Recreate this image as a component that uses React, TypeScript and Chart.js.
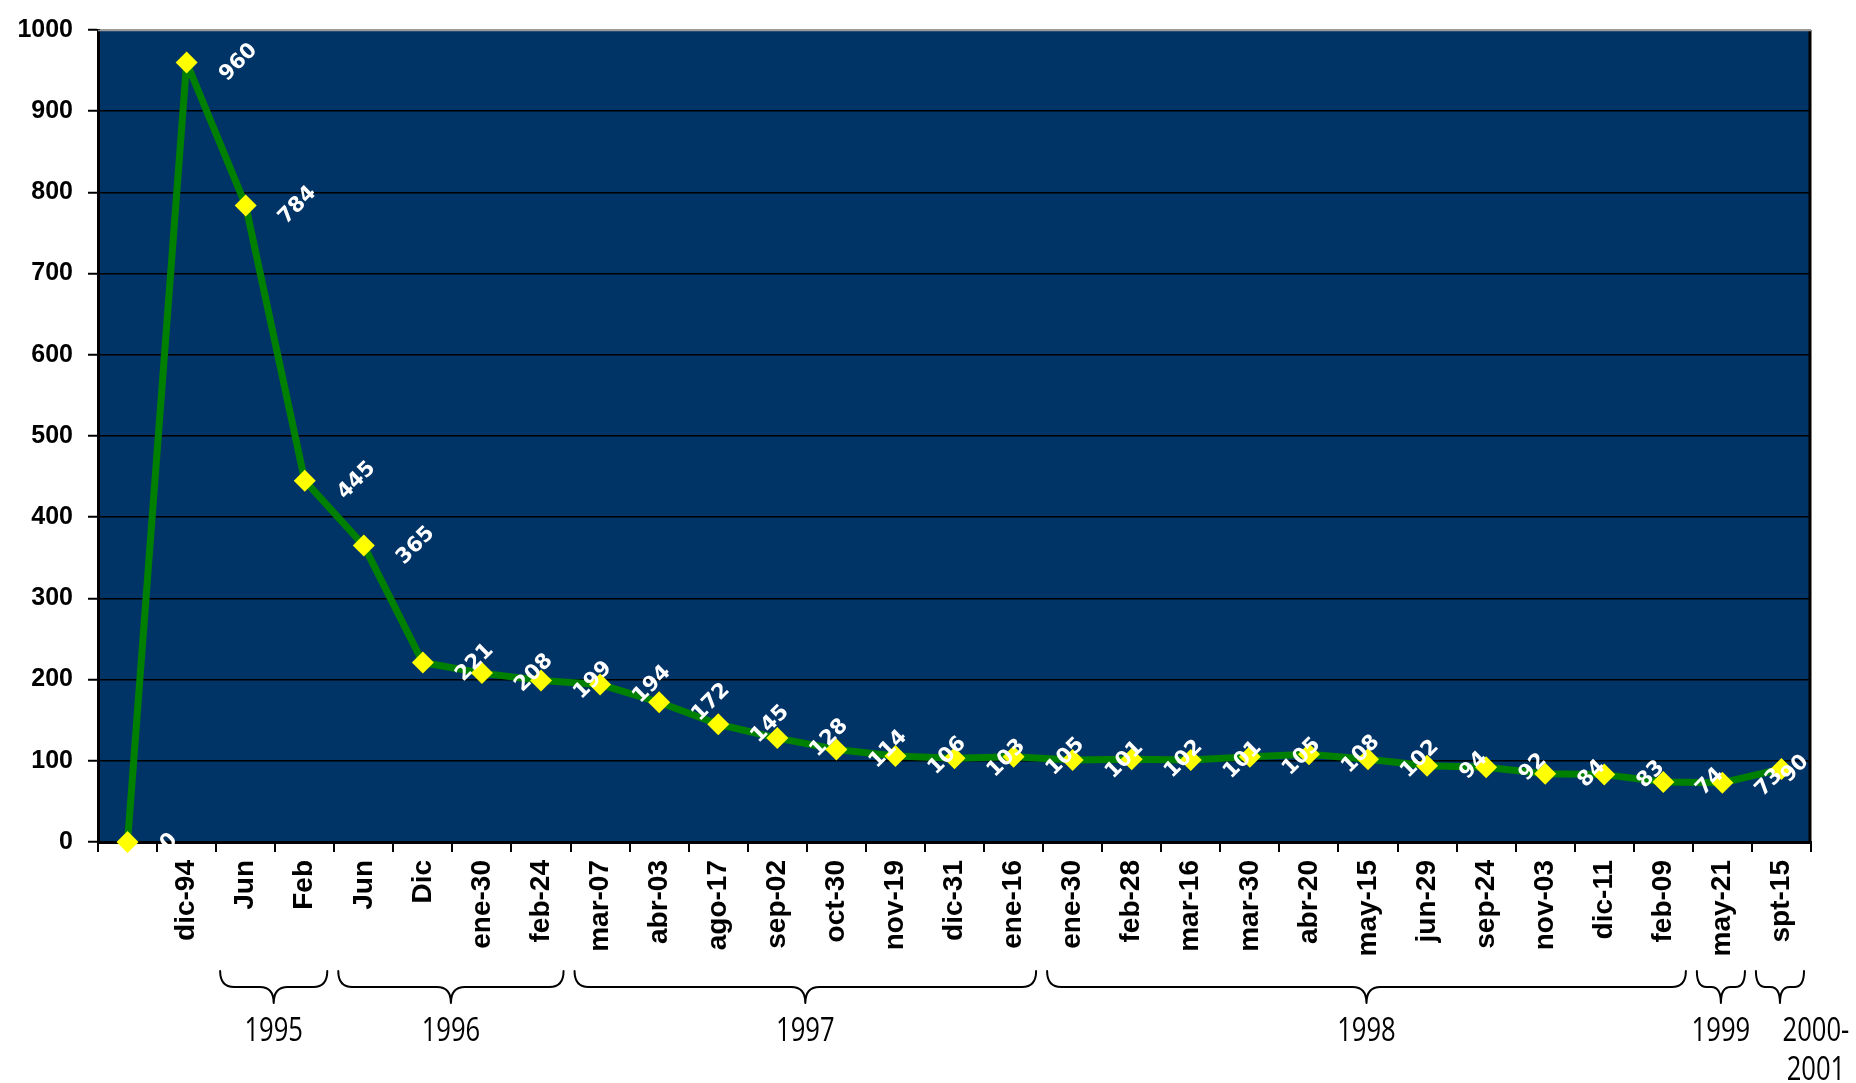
import React, { useEffect, useRef } from 'react';
import { Chart, registerables } from 'chart.js';

Chart.register(...registerables);

// ---- data ----
const categories: string[] = [
  '', 'dic-94', 'Jun', 'Feb', 'Jun', 'Dic', 'ene-30', 'feb-24',
  'mar-07', 'abr-03', 'ago-17', 'sep-02', 'oct-30', 'nov-19', 'dic-31', 'ene-16',
  'ene-30', 'feb-28', 'mar-16', 'mar-30', 'abr-20', 'may-15', 'jun-29', 'sep-24',
  'nov-03', 'dic-11', 'feb-09', 'may-21', 'spt-15',
];
const values: number[] = [
  0, 960, 784, 445, 365, 221, 208, 199, 194, 172, 145, 128, 114, 106, 103,
  105, 101, 102, 101, 105, 108, 102, 94, 92, 84, 83, 74, 73, 90,
];
const yTicks: number[] = [0, 100, 200, 300, 400, 500, 600, 700, 800, 900, 1000];

// year groups (category index ranges)
const yearNames: string[][] = [['1995'], ['1996'], ['1997'], ['1998'], ['1999'], ['2000-', '2001']];
const yearFirst: number[] = [2, 4, 8, 16, 27, 28];
const yearLast: number[] = [3, 7, 15, 26, 27, 28];

// ---- style ----
const PLOT_BG = '#003366';
const LINE_GREEN = '#008000';
const MARKER_YELLOW = '#ffff00';
const yearLabelShift: number[] = [0, 0, 0, 0, 0, 36];

const backgroundPlugin = {
  id: 'plotBackground',
  beforeDraw(chart: any) {
    const { ctx, chartArea: a } = chart;
    ctx.save();
    ctx.fillStyle = '#ffffff';
    ctx.fillRect(0, 0, chart.width, chart.height);
    ctx.fillStyle = PLOT_BG;
    ctx.fillRect(a.left, a.top, a.right - a.left, a.bottom - a.top);
    ctx.restore();
  },
  beforeDatasetsDraw(chart: any) {
    const { ctx, chartArea: a } = chart;
    ctx.save();
    ctx.strokeStyle = '#000';
    ctx.lineWidth = 3;
    ctx.beginPath();
    ctx.moveTo(a.right - 1, a.top);
    ctx.lineTo(a.right - 1, a.bottom);
    ctx.stroke();
    ctx.strokeStyle = '#9a9a9a';
    ctx.lineWidth = 1.5;
    ctx.beginPath();
    ctx.moveTo(a.left, a.top + 0.5);
    ctx.lineTo(a.right, a.top + 0.5);
    ctx.stroke();
    ctx.restore();
  },
};

const dataLabelPlugin = {
  id: 'rotatedDataLabels',
  afterDatasetsDraw(chart: any) {
    const meta = chart.getDatasetMeta(0);
    const { ctx, chartArea: a } = chart;
    const size = 21;
    ctx.save();
    ctx.font = `bold ${size}px "DejaVu Sans", Verdana, sans-serif`;
    ctx.fillStyle = '#ffffff';
    ctx.textAlign = 'center';
    ctx.textBaseline = 'middle';
    const c = Math.SQRT1_2;
    const h = size * 0.73;
    meta.data.forEach((pt: any, i: number) => {
      const text = String(values[i]);
      const w = ctx.measureText(text).width;
      const box = (w + h) * c;
      let left = pt.x + 31;
      if (left + box > a.right) left = a.right - box;
      const cx = left + box / 2;
      const cy = pt.y;
      ctx.save();
      ctx.translate(cx, cy);
      ctx.rotate(-Math.PI / 4);
      ctx.fillText(text, 0, 0);
      ctx.restore();
    });
    ctx.restore();
  },
};

const bracePlugin = {
  id: 'yearBraces',
  afterDraw(chart: any) {
    const xs = chart.scales.x;
    const { ctx, chartArea: a } = chart;
    const top = a.bottom + 129;
    const mid = a.bottom + 145;
    const tip = a.bottom + 161;
    const labelY = a.bottom + 190;
    const lineGap = 39;
    ctx.save();
    ctx.strokeStyle = '#000';
    ctx.lineWidth = 2;
    ctx.lineCap = 'round';
    yearFirst.forEach((f, i) => {
      const L = xs.getPixelForValue(f - 0.5) + 4;
      const R = xs.getPixelForValue(yearLast[i] + 0.5) - 7;
      const M = (L + R) / 2;
      const r = Math.min(14, (R - L) / 5);
      ctx.beginPath();
      ctx.moveTo(L, top);
      ctx.quadraticCurveTo(L, mid, L + r, mid);
      ctx.lineTo(M - r, mid);
      ctx.quadraticCurveTo(M, mid, M, tip);
      ctx.moveTo(M, tip);
      ctx.quadraticCurveTo(M, mid, M + r, mid);
      ctx.lineTo(R - r, mid);
      ctx.quadraticCurveTo(R, mid, R, top);
      ctx.stroke();

      ctx.fillStyle = '#000';
      ctx.font = '32px "Open Sans", "Noto Sans", sans-serif';
      ctx.textAlign = 'center';
      ctx.textBaseline = 'middle';
      yearNames[i].forEach((line, j) => {
        ctx.save();
        ctx.translate(M + yearLabelShift[i], labelY + j * lineGap);
        ctx.scale(0.8, 1);
        ctx.fillText(line, 0, 0);
        ctx.restore();
      });
    });
    ctx.restore();
  },
};

export default function App() {
  const canvasRef = useRef<HTMLCanvasElement | null>(null);

  useEffect(() => {
    const canvas = canvasRef.current;
    if (!canvas) return;
    const chart = new Chart(canvas, {
      type: 'line',
      data: {
        labels: categories,
        datasets: [
          {
            data: values,
            borderColor: LINE_GREEN,
            borderWidth: 7,
            borderJoinStyle: 'round',
            tension: 0,
            pointStyle: 'rectRot',
            pointRadius: 11,
            pointBackgroundColor: MARKER_YELLOW,
            pointBorderColor: MARKER_YELLOW,
            pointBorderWidth: 0,
            clip: false,
          } as any,
        ],
      },
      options: {
        responsive: false,
        devicePixelRatio: 1,
        animation: false,
        layout: { padding: { top: 25, right: 45, left: 0, bottom: 0 } },
        plugins: {
          legend: { display: false },
          tooltip: { enabled: false },
        },
        scales: {
          x: {
            type: 'category',
            offset: true,
            grid: {
              offset: true,
              drawOnChartArea: false,
              drawTicks: true,
              tickLength: 10,
              color: '#000',
              lineWidth: 2,
            },
            border: { display: true, color: '#000', width: 3 },
            ticks: {
              autoSkip: false,
              maxRotation: 90,
              minRotation: 90,
              padding: 8,
              color: '#000',
              font: { family: '"Liberation Sans", Arial, sans-serif', size: 28, weight: 'bold' },
            },
            afterFit: (s: any) => {
              s.height = 241;
            },
          },
          y: {
            min: 0,
            max: 1000,
            afterBuildTicks: (s: any) => {
              s.ticks = yTicks.map((v) => ({ value: v }));
            },
            grid: {
              color: (c: any) => (c.tick && c.tick.value === 1000 ? '#9a9a9a' : '#000'),
              lineWidth: 1.5,
              tickLength: 10,
              tickColor: '#000',
              tickWidth: 2,
            },
            border: { display: true, color: '#000', width: 3 },
            ticks: {
              padding: 15,
              color: '#000',
              callback: (v: any) => String(v),
              font: { family: '"Liberation Sans", Arial, sans-serif', size: 25, weight: 'bold' },
            },
            afterFit: (s: any) => {
              s.width = 98;
            },
          },
        },
      } as any,
      plugins: [backgroundPlugin, dataLabelPlugin, bracePlugin],
    });
    return () => chart.destroy();
  }, []);

  return (
    <div style={{ position: 'absolute', left: 0, top: 0, width: 1856, height: 1083 }}>
      <canvas ref={canvasRef} width={1856} height={1083} style={{ display: 'block' }} />
    </div>
  );
}
